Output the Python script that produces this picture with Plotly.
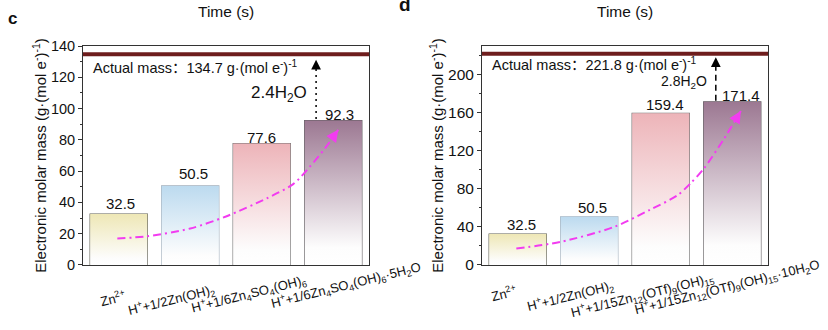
import plotly.graph_objects as go

# ---------------- data ----------------
labels_c = [
    "Zn<sup>2+</sup>",
    "H<sup>+</sup>+1/2Zn(OH)<sub>2</sub>",
    "H<sup>+</sup>+1/6Zn<sub>4</sub>SO<sub>4</sub>(OH)<sub>6</sub>",
    "H<sup>+</sup>+1/6Zn<sub>4</sub>SO<sub>4</sub>(OH)<sub>6</sub>·5H<sub>2</sub>O",
]
values_c = [32.5, 50.5, 77.6, 92.3]
actual_c = 134.7
water_c = "2.4H<sub>2</sub>O"

labels_d = [
    "Zn<sup>2+</sup>",
    "H<sup>+</sup>+1/2Zn(OH)<sub>2</sub>",
    "H<sup>+</sup>+1/15Zn<sub>12</sub>(OTf)<sub>9</sub>(OH)<sub>15</sub>",
    "H<sup>+</sup>+1/15Zn<sub>12</sub>(OTf)<sub>9</sub>(OH)<sub>15</sub>·10H<sub>2</sub>O",
]
values_d = [32.5, 50.5, 159.4, 171.4]
actual_d = 221.8
water_d = "2.8H<sub>2</sub>O"

# decorative trend-arrow paths
trend_c_x = [-0.02, 0.39, 1.0, 1.5, 2.07, 2.44, 2.67, 2.88, 3.07]
trend_c_y = [16.9, 18.3, 23.3, 31, 42.6, 51.7, 62.7, 74.3, 86.4]
trend_d_x = [-0.02, 0.6, 1.35, 1.85, 2.23, 2.42, 2.6, 2.88, 3.12]
trend_d_y = [17.2, 24.2, 40, 58, 73, 86, 101, 132, 161.7]

# ---------------- style ----------------
FONT = "Liberation Sans, Arial, sans-serif"
top_colors = ["#EEE7B6", "#BCDAEF", "#EDB4B9", "#9C7892"]
edge_colors = ["#5c5c50", "#a3b0bd", "#6e6e6e", "#5e5a5e"]
BAR_W = 0.8
MAGENTA = "#F23CF0"
RED = "#6E1D1D"

# label offsets in px (x tick labels, value labels)
xlab_shift_c = [(-6, -33), (-19, -35), (-13, -29), (13, -20)]
xlab_shift_d = [(-14, -28), (-19, -31), (-18, -30), (-5, -22)]
val_shift_c = [(2, 11), (3.5, 12), (-0.5, 6), (6, 6)]
val_shift_d = [(4, 9), (3, 9.5), (4, 8.6), (9, 6.6)]

fig = go.Figure()


def panel(xa, ya, labels, values, actual, water, tx, ty, xl_shift, v_shift,
          arrow_x, arrow_dash, x_font, water_font, text_y, water_y, head_tail):
    # gradient-filled bars
    for i, v in enumerate(values):
        x0, x1 = i - BAR_W / 2, i + BAR_W / 2
        fig.add_trace(go.Scatter(
            x=[x0, x0, x1, x1, x0], y=[0, v, v, 0, 0],
            xaxis=xa, yaxis=ya, mode="lines", fill="toself",
            fillgradient=dict(type="vertical",
                              colorscale=[[0, "#FFFFFF"], [0.12, "#FDFDFD"], [1, top_colors[i]]]),
            line=dict(width=0), hoverinfo="skip", showlegend=False))
    # bar outlines
    fig.add_trace(go.Bar(
        x=list(range(len(values))), y=values, width=BAR_W,
        xaxis=xa, yaxis=ya,
        marker=dict(color="rgba(0,0,0,0)", line=dict(color=edge_colors, width=1.2)),
        showlegend=False, hoverinfo="skip"))
    # trend curve
    fig.add_trace(go.Scatter(
        x=tx, y=ty, xaxis=xa, yaxis=ya, mode="lines",
        line=dict(color=MAGENTA, width=2, dash="8px,4px,2px,4px", shape="spline", smoothing=0.8),
        showlegend=False, hoverinfo="skip"))
    ax = tx[-1] - 0.35 * (tx[-1] - tx[-2])
    ay = ty[-1] - 0.35 * (ty[-1] - ty[-2])
    fig.add_annotation(x=tx[-1], y=ty[-1], ax=ax, ay=ay, xref=xa, yref=ya,
                       axref=xa, ayref=ya, text="", showarrow=True,
                       arrowhead=2, arrowsize=1.2, arrowwidth=2, arrowcolor=MAGENTA)
    # actual-mass line
    fig.add_shape(type="line", xref=xa + " domain", yref=ya, x0=0, x1=1,
                  y0=actual, y1=actual, line=dict(color=RED, width=4))
    # vertical arrow from last bar to actual mass
    top = values[-1]
    fig.add_trace(go.Scatter(
        x=[arrow_x, arrow_x], y=[top + 1, head_tail], xaxis=xa, yaxis=ya, mode="lines",
        line=dict(color="black", width=1.5, dash=arrow_dash),
        showlegend=False, hoverinfo="skip"))
    fig.add_annotation(x=arrow_x, y=head_tail + (actual - head_tail) * 0.55,
                       ax=arrow_x, ay=head_tail - 1, xref=xa, yref=ya, axref=xa, ayref=ya,
                       text="", showarrow=True, arrowhead=2, arrowsize=1.3,
                       arrowwidth=1.5, arrowcolor="black")
    # texts
    fig.add_annotation(
        x=-0.5, xshift=8, y=text_y, xref=xa, yref=ya, xanchor="left",
        yanchor="middle", showarrow=False,
        text=("Actual mass<span style=\"font-family:'Noto Sans CJK SC'\">：</span>"
              f"{actual} g·(mol e<sup>-</sup>)<sup>-1</sup>"),
        font=dict(family=FONT, size=14.5, color="#111"))
    fig.add_annotation(x=arrow_x, xshift=-7, y=water_y, xref=xa, yref=ya, xanchor="right",
                       yanchor="middle", showarrow=False, text=water,
                       font=dict(family=FONT, size=water_font, color="#111"))
    for i, v in enumerate(values):
        fig.add_annotation(x=i, y=v, xref=xa, yref=ya, xshift=v_shift[i][0],
                           yshift=v_shift[i][1], showarrow=False, text=f"{v}",
                           xanchor="center", yanchor="middle",
                           font=dict(family=FONT, size=15, color="#111"))
    for i, lab in enumerate(labels):
        fig.add_annotation(x=i, y=0, xref=xa, yref=ya, xshift=xl_shift[i][0],
                           yshift=xl_shift[i][1], showarrow=False, text=lab,
                           textangle=-14, xanchor="center", yanchor="middle",
                           font=dict(family=FONT, size=x_font, color="#111"))
    fig.add_annotation(x=0.5, y=1.0, yshift=-3, xref=xa + " domain", yref="paper",
                       showarrow=False, text="Time (s)", xanchor="center", yanchor="middle",
                       font=dict(family=FONT, size=15.5, color="#111"))


panel("x", "y", labels_c, values_c, actual_c, water_c, trend_c_x, trend_c_y,
      xlab_shift_c, val_shift_c, 2.76, "2px,4px", 13, 17, 127.2, 109.6, 127)
panel("x2", "y2", labels_d, values_d, actual_d, water_d, trend_d_x, trend_d_y,
      xlab_shift_d, val_shift_d, 2.77, "6px,4px", 13, 14, 212, 192, 214)

fig.add_annotation(x=12 / 828, y=1.0, xref="paper", yref="paper",
                   text="<b>c</b>", showarrow=False, xanchor="center", yanchor="top",
                   borderpad=0, font=dict(family=FONT, size=17, color="#111"))
fig.add_annotation(x=405 / 828, y=1.0, yshift=4, xref="paper", yref="paper",
                   text="<b>d</b>", showarrow=False, xanchor="center", yanchor="middle",
                   font=dict(family=FONT, size=19, color="#111"))

ytitle = "Electronic molar mass (g·(mol e<sup>-</sup>)<sup>-1</sup>)"
common_x = dict(range=[-0.5, 3.5], showticklabels=False, ticks="", showgrid=False,
                zeroline=False, showline=True, linecolor="#333", linewidth=1, mirror=True)
ydom = [(330 - 270) / 330, (330 - 40) / 330]


def yax(rng, dt, mdt, fs, stand, anchor):
    return dict(domain=ydom, range=rng, dtick=dt, tick0=0, ticks="outside", ticklen=4,
                tickwidth=1, tickcolor="#333", showgrid=False, zeroline=False,
                showline=True, linecolor="#333", linewidth=1, mirror=True, anchor=anchor,
                minor=dict(ticks="outside", ticklen=2, dtick=mdt, tickcolor="#333", showgrid=False),
                tickfont=dict(family=FONT, size=fs, color="#111"),
                title=dict(text=ytitle, font=dict(family=FONT, size=15, color="#111"),
                           standoff=stand))


fig.update_layout(
    width=828, height=330, margin=dict(l=0, r=0, t=0, b=0),
    plot_bgcolor="white", paper_bgcolor="white", showlegend=False,
    xaxis=dict(domain=[83 / 828, 369 / 828], anchor="y", **common_x),
    yaxis=yax([0, 140], 20, 10, 14.5, 0, "x"),
    xaxis2=dict(domain=[482 / 828, 768 / 828], anchor="y2", **common_x),
    yaxis2=yax([0, 230], 40, 20, 15.5, 0, "x2"),
)

fig.write_html("out.html")
